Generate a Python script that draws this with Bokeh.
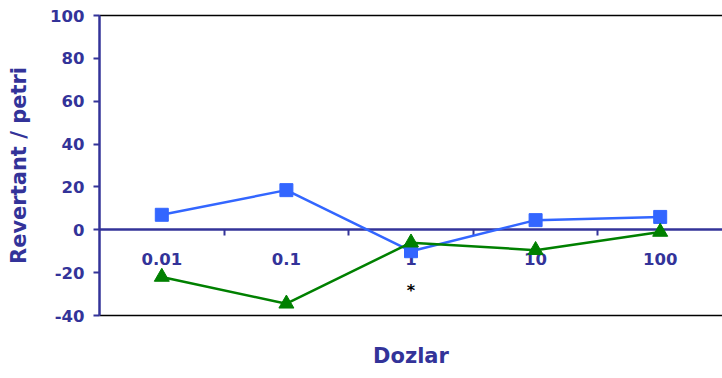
from bokeh.plotting import figure
from bokeh.models import Range1d, LinearAxis, FixedTicker, ColumnDataSource, PrintfTickFormatter
from bokeh.core.properties import value
from bokeh.embed import file_html
from bokeh.resources import INLINE

# ---- data ----
doses = ["0.01", "0.1", "1", "10", "100"]
blue_vals = [7, 18.5, -10, 4.5, 6]
green_vals = [-22, -34.5, -6, -9.5, -1]
marks = ["", "", "*", "", ""]
y_ticks = [-40, -20, 0, 20, 40, 60, 80, 100]
y_title = "Revertant / petri"
x_title = "Dozlar"

NAVY = "#333399"
FONT = "DejaVu Sans"

pos = list(range(len(doses)))
bounds = [i + 0.5 for i in pos[:-1]]

src = ColumnDataSource(dict(x=pos, blue=blue_vals, green=green_vals,
                            mark=marks, zero=[0] * len(pos)))

p = figure(width=722, height=378, output_backend="svg", toolbar_location=None,
           x_range=Range1d(-0.5, len(doses) - 0.5), y_range=Range1d(-40, 100),
           x_axis_location=None, y_axis_location="left",
           min_border_left=99, min_border_right=0, min_border_top=15,
           min_border_bottom=63)
p.grid.visible = False
p.outline_line_color = None
p.background_fill_color = "white"
p.border_fill_color = "white"

# top border (axis line only)
ta = LinearAxis(ticker=FixedTicker(ticks=[]), axis_line_color="black",
                axis_line_width=1.5, major_tick_out=0, minor_tick_out=0,
                major_tick_in=0, minor_tick_in=0)
p.add_layout(ta, "above")

# y axis
ya = p.yaxis[0]
ya.ticker = FixedTicker(ticks=y_ticks)
ya.formatter = PrintfTickFormatter(format="%d")
ya.axis_line_color = NAVY
ya.axis_line_width = 2.5
ya.major_tick_line_color = NAVY
ya.major_tick_line_width = 2
ya.major_tick_out = 6
ya.major_tick_in = 0
ya.minor_tick_out = 0
ya.minor_tick_in = 0
ya.major_label_standoff = 9
ya.major_label_text_font = FONT
ya.major_label_text_font_style = "bold"
ya.major_label_text_font_size = "16.5px"
ya.major_label_text_color = NAVY
ya.axis_label = y_title
ya.axis_label_text_font = FONT
ya.axis_label_text_font_style = "bold"
ya.axis_label_text_font_size = "21px"
ya.axis_label_text_color = NAVY
ya.axis_label_standoff = 16

# x axis drawn at y = 0
xa = LinearAxis(fixed_location=0,
                ticker=FixedTicker(ticks=pos, minor_ticks=bounds),
                major_label_overrides={i: d for i, d in enumerate(doses)},
                axis_line_color=NAVY, axis_line_width=2.5,
                major_tick_out=0, major_tick_in=0,
                minor_tick_out=6, minor_tick_in=0,
                minor_tick_line_color=NAVY, minor_tick_line_width=2,
                major_label_standoff=17,
                major_label_text_font=FONT, major_label_text_font_style="bold",
                major_label_text_font_size="16.5px", major_label_text_color=NAVY)
p.add_layout(xa, "below")

# bottom border + x title
la = LinearAxis(ticker=FixedTicker(ticks=[]), axis_label=x_title,
                axis_line_color="black", axis_line_width=1.5,
                major_tick_out=0, minor_tick_out=0,
                major_tick_in=0, minor_tick_in=0,
                axis_label_standoff=28,
                axis_label_text_font=FONT, axis_label_text_font_style="bold",
                axis_label_text_font_size="21px", axis_label_text_color=NAVY)
p.add_layout(la, "below")

# series (drawn above the zero axis line)
p.line("x", "blue", source=src, line_color="#3366FF", line_width=2.5, level="overlay")
p.scatter("x", "blue", source=src, marker="square", size=13,
          fill_color="#3366FF", line_color="#3366FF", level="overlay")
p.line("x", "green", source=src, line_color="#008000", line_width=2.5, level="overlay")
p.scatter("x", "green", source=src, marker="triangle", size=15,
          fill_color="#008000", line_color="#008000", level="overlay")

# significance mark
p.text("x", "zero", text="mark", source=src, y_offset=61,
       text_font=value(FONT), text_font_size="16px", text_font_style="bold",
       text_color="black", text_align="center", text_baseline="middle")

open("out.html", "w").write(file_html(p, INLINE))
